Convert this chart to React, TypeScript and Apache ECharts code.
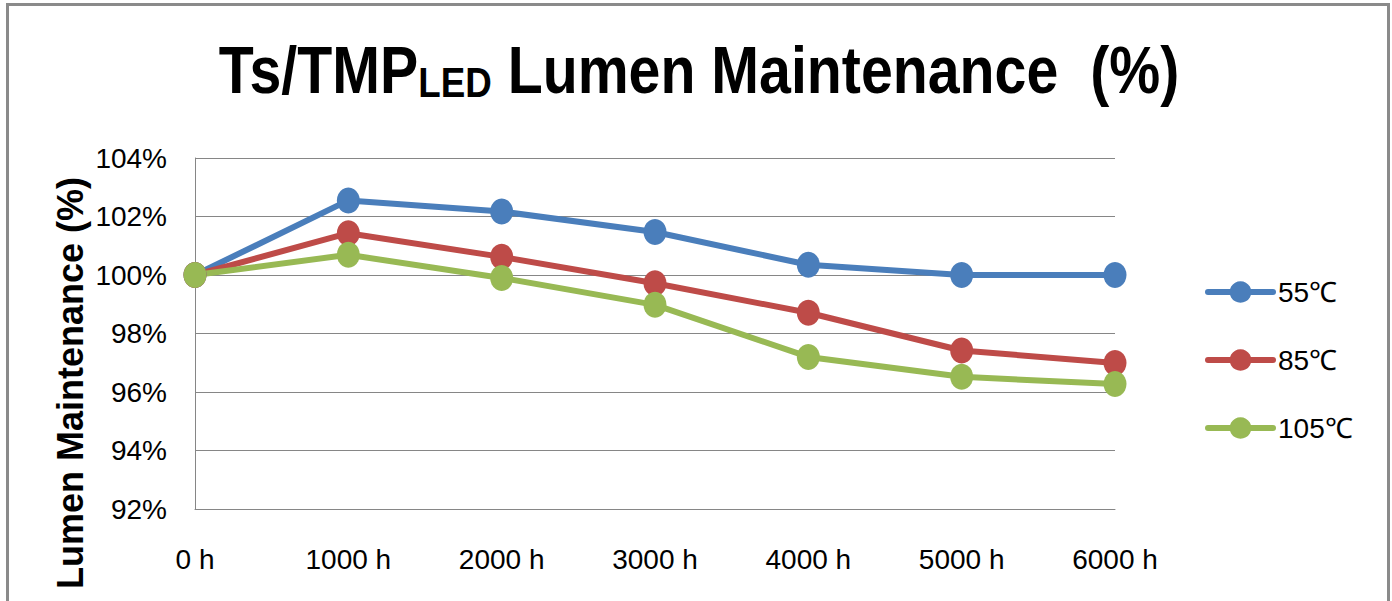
import React, { useEffect, useRef } from "react";
import * as echarts from "echarts";

const categories = ["0 h", "1000 h", "2000 h", "3000 h", "4000 h", "5000 h", "6000 h"];
const s55 = [100, 102.55, 102.17, 101.47, 100.35, 100.0, 100.0];
const s85 = [100, 101.43, 100.62, 99.72, 98.71, 97.42, 96.99];
const s105 = [100, 100.69, 99.9, 98.98, 97.2, 96.52, 96.27];
const seriesNames = ["55℃", "85℃", "105℃"];
const colors = ["#4A7EBB", "#BE4B48", "#98B954"];
const yTicks = { min: 92, max: 104, interval: 2 };

export default function App() {
  const ref = useRef<HTMLDivElement>(null);
  useEffect(() => {
    document.body.style.margin = "0";
    if (!ref.current) return;
    const chart = echarts.init(ref.current, null, { renderer: "svg" });
    const font = "'Liberation Sans', Arial, sans-serif";
    const mk = (name: string, data: number[], color: string) => ({
      name,
      type: "line",
      data,
      symbol: "circle",
      symbolSize: [23, 26],
      color,
      itemStyle: { color },
      lineStyle: { color, width: 6, cap: "round", join: "round" },
    });
    chart.setOption({
      animation: false,
      backgroundColor: "#ffffff",
      legend: {
        orient: "vertical",
        left: 1200,
        top: 273,
        padding: 5,
        itemWidth: 65,
        itemHeight: 27,
        itemGap: 40,
        data: seriesNames,
        lineStyle: { width: 6, cap: "round" },
        textStyle: { fontFamily: font, fontSize: 28, color: "#000", lineHeight: 27 },
      },
      grid: { left: 195, right: 277, top: 158, bottom: 92 },
      xAxis: {
        type: "category",
        data: categories,
        boundaryGap: false,
        axisLine: { show: true, lineStyle: { color: "#868686", width: 1 } },
        axisTick: { show: false },
        axisLabel: { fontFamily: font, fontSize: 28, color: "#000", margin: 36 },
        splitLine: { show: false },
      },
      yAxis: {
        type: "value",
        min: yTicks.min,
        max: yTicks.max,
        interval: yTicks.interval,
        axisLine: { show: true, lineStyle: { color: "#868686", width: 1 } },
        axisTick: { show: false },
        axisLabel: {
          fontFamily: font,
          fontSize: 28,
          color: "#000",
          margin: 28,
          formatter: (v: number) => `${v}%`,
        },
        splitLine: { show: true, lineStyle: { color: "#868686", width: 1 } },
      },
      graphic: [
        {
          type: "rect",
          shape: { x: 7.5, y: 4.5, width: 1381, height: 800 },
          style: { fill: "none", stroke: "#8a8a8a", lineWidth: 3 },
          silent: true,
        },
        {
          type: "text",
          x: 699,
          y: 30,
          scaleX: 0.855,
          style: {
            text: "{a|Ts/TMP}{b|LED}{a| Lumen Maintenance  (%)}",
            align: "center",
            verticalAlign: "top",
            rich: {
              a: {
                fontFamily: font,
                fontWeight: "bold",
                fontSize: 67,
                lineHeight: 80,
                fill: "#000",
              },
              b: {
                fontFamily: font,
                fontWeight: "bold",
                fontSize: 43,
                lineHeight: 56,
                verticalAlign: "bottom",
                padding: [0, 0, 7, 0],
                fill: "#000",
              },
            },
          },
        },
        {
          type: "text",
          x: 70,
          y: 383,
          rotation: Math.PI / 2,
          style: {
            text: "Lumen Maintenance (%)",
            fontFamily: font,
            fontWeight: "bold",
            fontSize: 36,
            fill: "#000",
            align: "center",
            verticalAlign: "middle",
          },
        },
      ],
      series: [
        mk(seriesNames[0], s55, colors[0]),
        mk(seriesNames[1], s85, colors[1]),
        mk(seriesNames[2], s105, colors[2]),
      ],
    });
    return () => chart.dispose();
  }, []);
  return <div ref={ref} style={{ width: 1392, height: 601 }} />;
}
